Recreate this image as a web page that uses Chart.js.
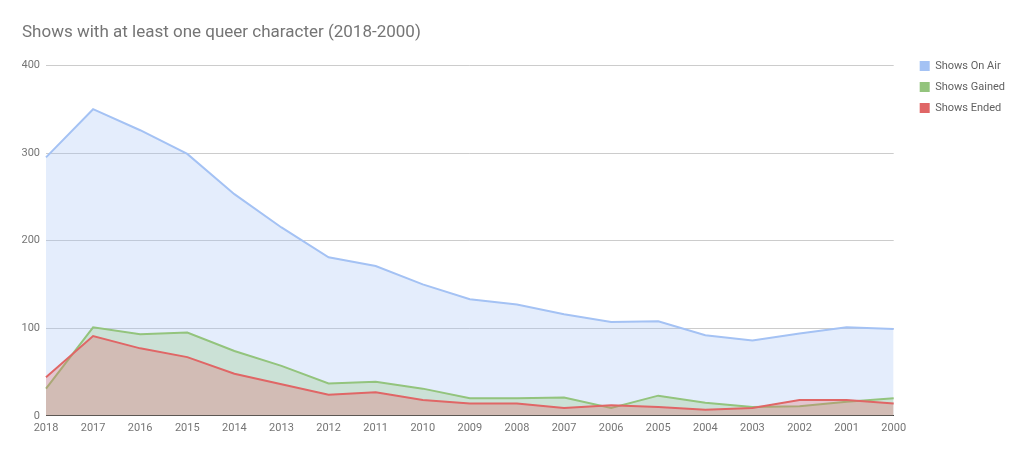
<!DOCTYPE html>
<html>
<head>
<meta charset="utf-8">
<script src="https://cdn.jsdelivr.net/npm/chart.js@4"></script>
<style>
  html, body { margin: 0; padding: 0; background: #fff; }
  #wrap { width: 1024px; height: 456px; }
</style>
</head>
<body>
<div id="wrap"><canvas id="queerChart" width="1024" height="456"></canvas></div>
<script>
// Shows with at least one queer character — area chart

const YEARS = ['2018', '2017', '2016', '2015', '2014', '2013', '2012', '2011', '2010', '2009',
  '2008', '2007', '2006', '2005', '2004', '2003', '2002', '2001', '2000'];
const SHOWS_ON_AIR = [295, 350, 326, 299, 253, 215, 181, 171, 150, 133, 127, 116, 107, 108, 92, 86, 94, 101, 99];
const SHOWS_GAINED = [31, 101, 93, 95, 74, 57, 37, 39, 31, 20, 20, 21, 9, 23, 15, 10, 11, 16, 20];
const SHOWS_ENDED  = [44, 91, 77, 67, 48, 36, 24, 27, 18, 14, 14, 9, 12, 10, 7, 9, 18, 18, 14];
const Y_TICKS = [0, 100, 200, 300, 400];

const FONT = 'Roboto, "Noto Sans", sans-serif';
const GREY = '#757575';

function series(label, data, line, fill, order) {
  return {
    label,
    data,
    borderColor: line,
    backgroundColor: fill,
    borderWidth: 2,
    pointRadius: 0,
    tension: 0,
    fill: 'origin',
    order,
  };
}

// nudge the legend so it sits beside the plot, a little above its top edge
const legendNudge = {
  id: 'legendNudge',
  afterLayout(chart) {
    const lg = chart.legend;
    if (!lg) return;
    const w = lg.width, h = lg.height;
    lg.left = chart.chartArea.right + 16;
    lg.right = lg.left + w;
    lg.top = chart.chartArea.top - 15;
    lg.bottom = lg.top + h;
  },
};

function renderChart() {
  const ctx = document.getElementById('queerChart');
  new Chart(ctx, {
    type: 'line',
    data: {
      labels: YEARS,
      datasets: [
        series('Shows On Air', SHOWS_ON_AIR, '#a4c2f4', 'rgba(164,194,244,0.3)', 3),
        series('Shows Gained', SHOWS_GAINED, '#93c47d', 'rgba(147,196,125,0.3)', 2),
        series('Shows Ended', SHOWS_ENDED, '#e06666', 'rgba(224,102,102,0.3)', 1),
      ],
    },
    plugins: [legendNudge],
    options: {
      responsive: false,
      animation: false,
      layout: { padding: { left: 22, right: 25, top: 0, bottom: 15 } },
      scales: {
        x: {
          grid: { display: false, drawTicks: false },
          border: { display: true, color: '#333333', width: 1 },
          ticks: { color: GREY, font: { family: FONT, size: 11 }, maxRotation: 0, autoSkip: false, padding: 6 },
        },
        y: {
          min: 0,
          max: 400,
          afterBuildTicks: (axis) => { axis.ticks = Y_TICKS.map(v => ({ value: v })); },
          afterFit: (axis) => { axis.width = 24; },
          grid: { color: '#cccccc', drawTicks: false },
          border: { display: false },
          ticks: { color: GREY, font: { family: FONT, size: 11 }, padding: 6 },
        },
      },
      plugins: {
        title: {
          display: true,
          text: 'Shows with at least one queer character (2018-2000)',
          align: 'start',
          color: GREY,
          font: { family: FONT, size: 17, weight: 'normal' },
          padding: { top: 23, bottom: 22 },
        },
        legend: {
          position: 'right',
          align: 'start',
          fullSize: false,
          labels: {
            boxWidth: 10,
            boxHeight: 10,
            padding: 10,
            color: '#616161',
            font: { family: FONT, size: 11 },
            generateLabels: (chart) => chart.data.datasets.map((d, i) => ({
              text: d.label,
              fillStyle: d.borderColor,
              strokeStyle: d.borderColor,
              lineWidth: 0,
              hidden: false,
              datasetIndex: i,
              fontColor: '#616161',
            })),
          },
        },
        tooltip: { enabled: false },
      },
    },
  });
}

renderChart();
</script>
</body>
</html>
